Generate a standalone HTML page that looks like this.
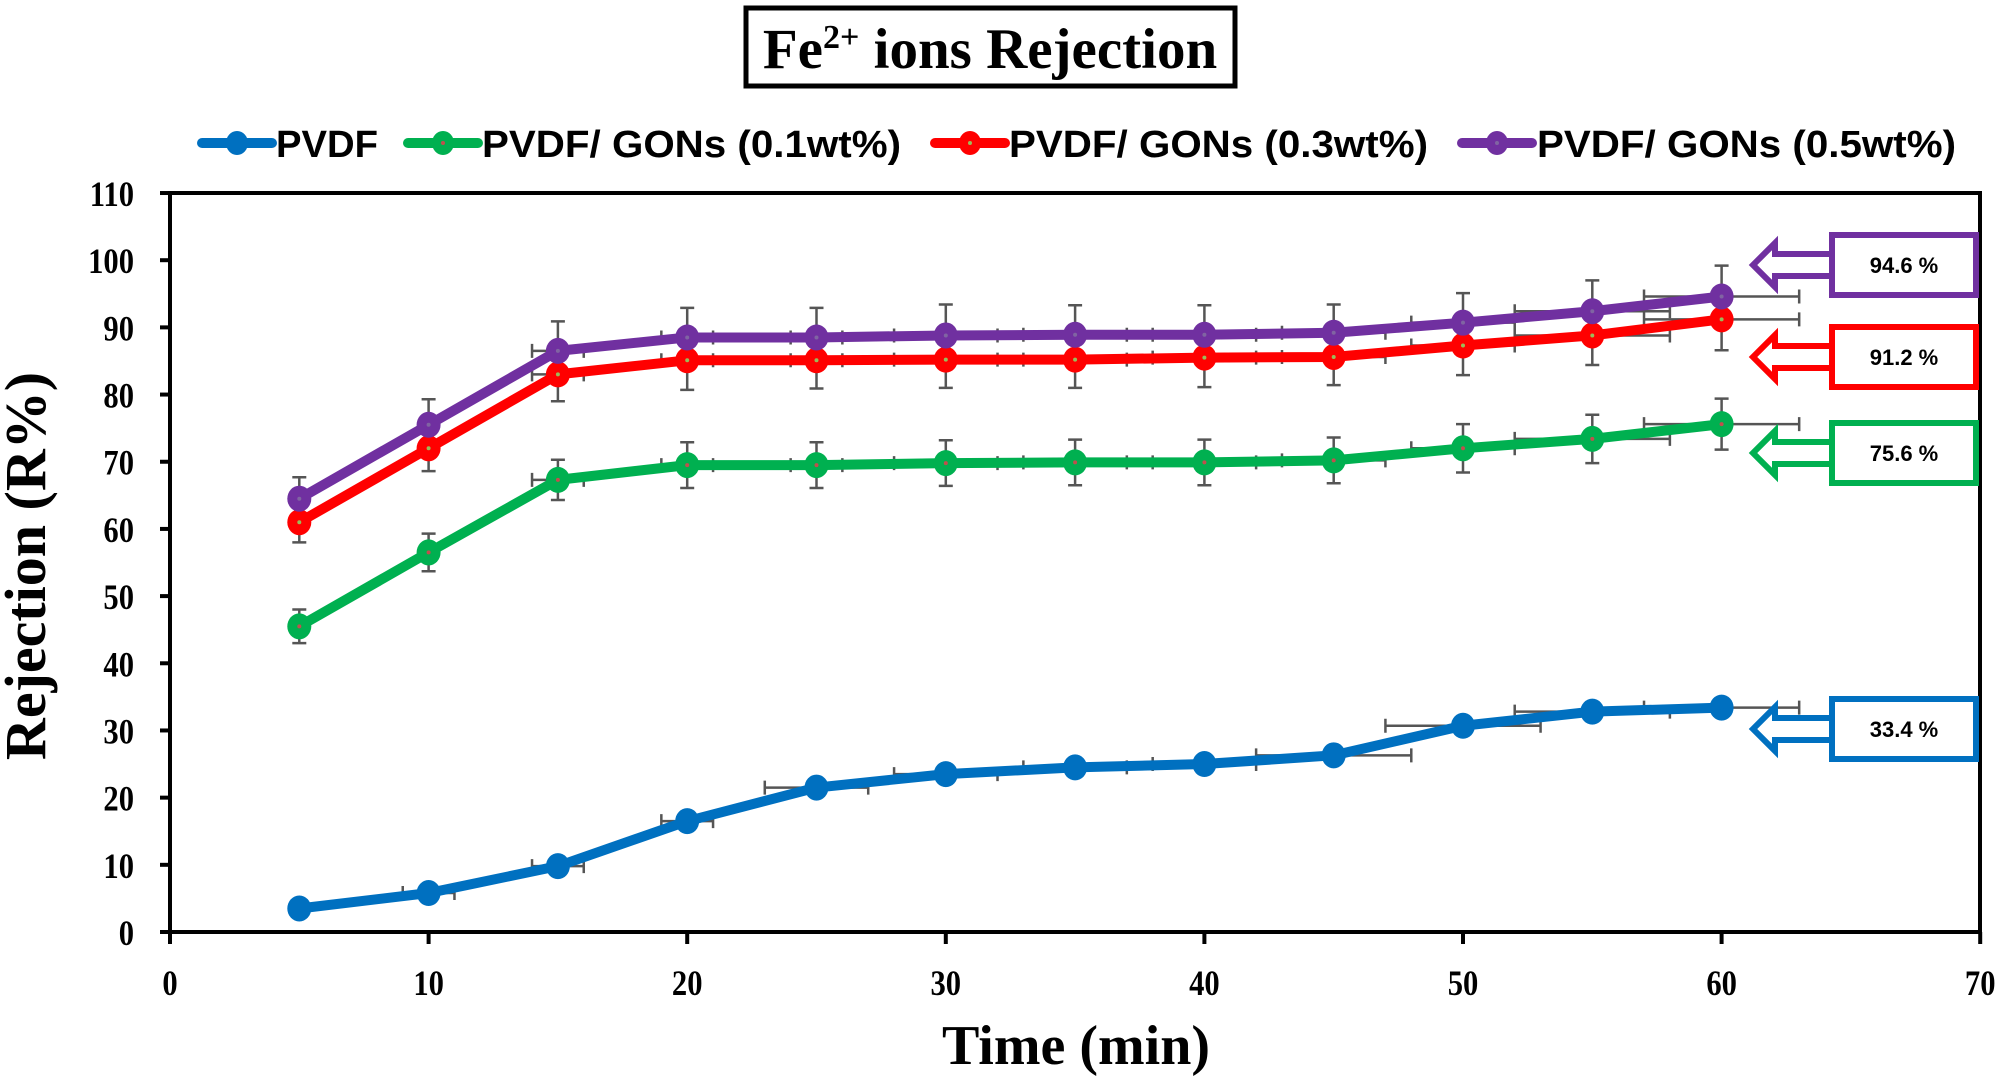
<!DOCTYPE html>
<html><head><meta charset="utf-8"><style>
html,body{margin:0;padding:0;background:#fff;}
svg{display:block;}
.tk{font-family:"Liberation Serif",serif;font-weight:bold;font-size:36px;fill:#000;}
.lg{font-family:"Liberation Sans Narrow","Liberation Sans",sans-serif;font-weight:bold;font-size:38px;fill:#000;}
.cb{font-family:"Liberation Sans Narrow","Liberation Sans",sans-serif;font-weight:bold;font-size:22px;fill:#000;}
</style></head><body>
<svg id="s" width="2008" height="1082" viewBox="0 0 2008 1082" xmlns="http://www.w3.org/2000/svg">
<rect x="0" y="0" width="2008" height="1082" fill="#fff"/>
<rect x="746" y="8" width="489" height="78" fill="#fff" stroke="#000" stroke-width="5"/>
<text x="990" y="68" text-anchor="middle" font-family="Liberation Serif,serif" font-weight="bold" font-size="57">Fe<tspan font-size="34" dy="-20">2+</tspan><tspan dy="20"> ions Rejection</tspan></text>
<g id="leg"></g>
<text class="lg" x="276" y="157" textLength="102" lengthAdjust="spacingAndGlyphs">PVDF</text>
<text class="lg" x="482" y="157" textLength="419" lengthAdjust="spacingAndGlyphs">PVDF/ GONs (0.1wt%)</text>
<text class="lg" x="1009" y="157" textLength="419" lengthAdjust="spacingAndGlyphs">PVDF/ GONs (0.3wt%)</text>
<text class="lg" x="1537" y="157" textLength="419" lengthAdjust="spacingAndGlyphs">PVDF/ GONs (0.5wt%)</text>
<g id="axes"></g>
<g id="data"></g>
<g id="call"></g>
<text x="1076" y="1064" text-anchor="middle" font-family="Liberation Serif,serif" font-weight="bold" font-size="56">Time (min)</text>
<text transform="translate(45,566) rotate(-90)" text-anchor="middle" font-family="Liberation Serif,serif" font-weight="bold" font-size="58">Rejection (R%)</text>
</svg>
<script>
const NS="http://www.w3.org/2000/svg";
function el(p,t,a){const e=document.createElementNS(NS,t);for(const k in a)e.setAttribute(k,a[k]);p.appendChild(e);return e;}
const X=v=>170+v*25.86, Y=v=>932-v*6.718;
const ax=document.getElementById('axes');
el(ax,'rect',{x:170,y:193,width:1810,height:739,fill:'none',stroke:'#000','stroke-width':4});
for(let v=0;v<=110;v+=10){el(ax,'line',{x1:160,x2:170,y1:Y(v),y2:Y(v),stroke:'#000','stroke-width':4});
 const t=el(ax,'text',{x:0,y:0,'text-anchor':'end',class:'tk',transform:`translate(134,${Y(v)+13}) scale(0.85,1)`});t.textContent=v;}
for(let v=0;v<=70;v+=10){el(ax,'line',{x1:X(v),x2:X(v),y1:932,y2:944,stroke:'#000','stroke-width':4});
 const t=el(ax,'text',{x:0,y:0,'text-anchor':'middle',class:'tk',transform:`translate(${X(v)},995) scale(0.85,1)`});t.textContent=v;}
const xs=[5,10,15,20,25,30,35,40,45,50,55,60];
const S=[
 {c:'#0070c0',d:'#0070c0',v:[3.5,5.8,9.8,16.5,21.5,23.5,24.5,25,26.3,30.7,32.8,33.4],e:[0.5,0.8,1,1.2,1,0.8,0.8,0.8,0.8,0.8,0.8,0.8],h:[0,1,1,1,2,2,2,2,3,3,3,3]},
 {c:'#00b050',d:'#c0504d',v:[45.5,56.5,67.3,69.5,69.5,69.8,69.9,69.9,70.2,72,73.4,75.6],e:[2.5,2.8,3,3.4,3.4,3.4,3.4,3.4,3.4,3.6,3.6,3.8],h:[0,0,1,1,1,2,2,2,2,2,3,3]},
 {c:'#ff0000',d:'#9bbb59',v:[61,72,83,85.1,85.1,85.2,85.2,85.5,85.6,87.3,88.8,91.2],e:[3,3.4,4,4.4,4.2,4.2,4.2,4.4,4.2,4.4,4.4,4.6],h:[0,0,1,1,1,2,2,2,2,2,3,3]},
 {c:'#7030a0',d:'#8064a2',v:[64.5,75.5,86.5,88.5,88.5,88.8,88.9,88.9,89.2,90.7,92.4,94.6],e:[3.2,3.8,4.4,4.4,4.4,4.6,4.4,4.4,4.2,4.4,4.6,4.6],h:[0,0,1,1,1,2,2,2,2,2,3,3]}];
const dg=document.getElementById('data');
S.forEach(s=>{s.v.forEach((v,i)=>{const x=X(xs[i]),y=Y(v),e=s.e[i]*6.718,h=s.h[i]*25.86;
 el(dg,'path',{d:`M${x} ${y-e}V${y+e}M${x-7} ${y-e}H${x+7}M${x-7} ${y+e}H${x+7}`+(h?`M${x-h} ${y}H${x+h}M${x-h} ${y-7}V${y+7}M${x+h} ${y-7}V${y+7}`:''),stroke:'#555','stroke-width':2.5,fill:'none'});});});
S.forEach(s=>{el(dg,'polyline',{points:s.v.map((v,i)=>X(xs[i])+','+Y(v)).join(' '),fill:'none',stroke:s.c,'stroke-width':10,'stroke-linejoin':'round'});
 s.v.forEach((v,i)=>{el(dg,'ellipse',{cx:X(xs[i]),cy:Y(v),rx:12,ry:13,fill:s.c});el(dg,'circle',{cx:X(xs[i]),cy:Y(v),r:2,fill:s.d});});});
const lg=document.getElementById('leg');
[[202,S[0]],[408,S[1]],[935,S[2]],[1462,S[3]]].forEach(([x,s])=>{el(lg,'line',{x1:x,x2:x+70,y1:143,y2:143,stroke:s.c,'stroke-width':10,'stroke-linecap':'round'});
 el(lg,'ellipse',{cx:x+35,cy:143,rx:11,ry:12,fill:s.c});el(lg,'circle',{cx:x+35,cy:143,r:2,fill:s.d});});
const cg=document.getElementById('call');
[[265,S[3].c,'94.6 %'],[357,S[2].c,'91.2 %'],[453,S[1].c,'75.6 %'],[729,S[0].c,'33.4 %']].forEach(([cy,c,t])=>{
 el(cg,'polygon',{points:`1753,${cy} 1775,${cy-22} 1775,${cy-11} 1832,${cy-11} 1832,${cy+11} 1775,${cy+11} 1775,${cy+22}`,fill:'#fff',stroke:c,'stroke-width':6});
 el(cg,'rect',{x:1832,y:cy-30,width:144,height:60,fill:'#fff',stroke:c,'stroke-width':6});
 const tx=el(cg,'text',{x:1904,y:cy+8,'text-anchor':'middle',class:'cb'});tx.textContent=t;});
</script>
</body></html>
